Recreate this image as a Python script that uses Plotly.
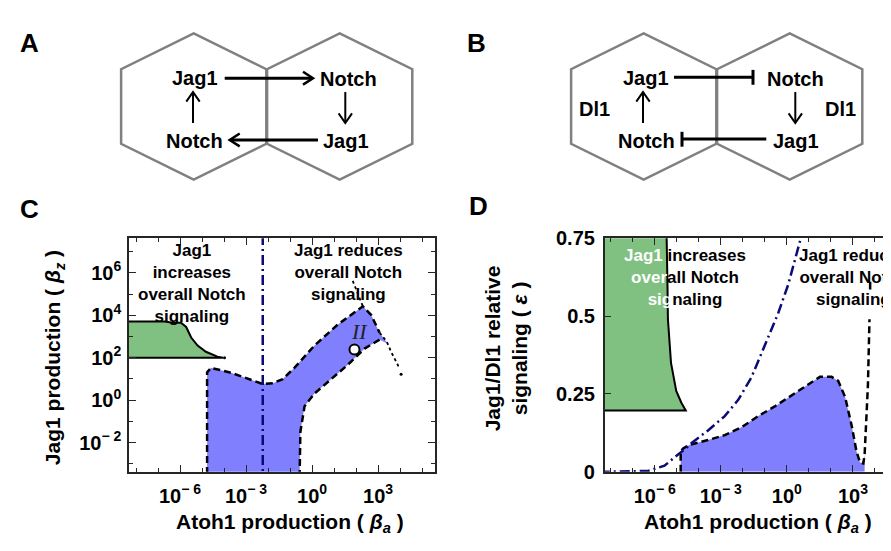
import plotly.graph_objects as go

W, H = 891, 551

# ---------------- Panel C data (Atoh1 production vs Jag1 production) ----------------
c_green_x = [4e-9, 2e-7, 4e-7, 1.1e-6, 1.9e-6, 3.2e-6, 6.3e-6, 1.5e-5, 5e-5, 8.9e-5, 4e-9]
c_green_y = [5100, 5100, 4600, 4400, 2800, 890, 370, 190, 112, 100, 100]

c_blue_x = [1.7e-5, 1.7e-5, 2.24e-5, 2.57e-5, 2.09e-4, 1.2e-3, 5.75e-3, 1.66e-2, 4.68e-2, 0.158,
            1.29, 14.8, 204, 490, 1175, 2818, 1175, 245, 42.7, 7.41, 1.29, 0.457, 0.38, 0.295, 0.269]
c_blue_y = [1e-4, 20.4, 28.2, 33.1, 19.5, 9.8, 5.75, 6.3, 9.8, 33.1,
            372, 3630, 26300, 10200, 1514, 447, 708, 269, 46.8, 9.8, 2.04, 0.513, 0.151, 0.0316, 1e-4]
c_upper_end = 15      # dashed edge: points 0..14
c_lower_start = 16    # dashed edge: points 16..end

c_dot1_x = [70.8, 112, 170, 204]
c_dot1_y = [417000, 126000, 49000, 26300]
c_dot2_x = [1175, 2512, 3981, 6607, 8511]
c_dot2_y = [1514, 562, 186, 66, 39]
c_spot_x = [1.05e-4, 11220]
c_spot_y = [98, 16.6]

c_threshold = 5.75e-3
c_point_x = [85]
c_point_y = [246]

c_xticks = [1e-6, 1e-3, 1, 1e3]
c_xtext = ["10<sup>− 6</sup>", "10<sup>− 3</sup>", "10<sup>0</sup>", "10<sup>3</sup>"]
c_yticks = [1e-2, 1, 1e2, 1e4, 1e6]
c_ytext = ["10<sup>− 2</sup>", "10<sup>0</sup>", "10<sup>2</sup>", "10<sup>4</sup>", "10<sup>6</sup>"]
c_xminor = [10.0 ** k for k in range(-8, 6)]
c_yminor = [10.0 ** k for k in range(-3, 8)]

# ---------------- Panel D data (Atoh1 production vs Jag1/Dl1 relative signaling) ----------------
d_green_x = [3.2e-9, 3.39e-6, 3.8e-6, 3.98e-6, 5.5e-6, 9.5e-6, 1.62e-5, 2.57e-5, 3.2e-9]
d_green_y = [0.8, 0.8, 0.6, 0.49, 0.35, 0.26, 0.222, 0.197, 0.197]

d_blue_x = [1.51e-5, 1.51e-5, 1.95e-5, 3.9e-5, 2.63e-4, 1.51e-3, 8.7e-3, 0.05, 0.282, 1.62, 6.6,
            31.6, 107, 214, 437, 871, 1445, 2089, 2951, 3390, 3390]
d_blue_y = [0, 0.066, 0.075, 0.087, 0.102, 0.118, 0.143, 0.179, 0.210, 0.246, 0.274,
            0.305, 0.305, 0.292, 0.241, 0.149, 0.066, 0.030, 0.027, 0.056, 0]
d_rise_x = [3390, 3981, 4786, 5623]
d_rise_y = [0.056, 0.16, 0.28, 0.49]
d_stub_x = [6026, 6026]
d_stub_y = [0.585, 0.61]

d_dd_x = [3.2e-9, 5e-7, 1e-6, 2.8e-6, 9.5e-6, 2.3e-5, 4.6e-5, 2.63e-4, 1.51e-3, 6.2e-3,
          0.0245, 0.1, 0.398, 1.15, 2.75, 4.68, 5.6]
d_dd_y = [0.0, 0.003, 0.01, 0.02, 0.051, 0.072, 0.092, 0.133, 0.179, 0.231,
          0.303, 0.405, 0.508, 0.601, 0.693, 0.75, 0.78]

d_yticks = [0, 0.25, 0.5, 0.75]
d_ytext = ["0", "0.25", "0.5", "0.75"]

# ---------------- styling ----------------
GREEN = "rgb(128,192,128)"
BLUE = "rgb(128,128,255)"
NAVY = "#0a0a78"
FONT = "Liberation Sans, Arial, sans-serif"
DASH = "7px,4px"
DASHDOT = "10px,4px,2px,4px"

fig = go.Figure()

def add(x, y, xa, ya, **kw):
    fig.add_trace(go.Scatter(x=x, y=y, xaxis=xa, yaxis=ya, showlegend=False,
                             hoverinfo="skip", **kw))

# Panel C traces
add(c_green_x, c_green_y, "x", "y", mode="lines", fill="toself", fillcolor=GREEN,
    line=dict(color="black", width=2))
add(c_blue_x, c_blue_y, "x", "y", mode="lines", fill="toself", fillcolor=BLUE,
    line=dict(width=0, color=BLUE))
add(c_blue_x[:c_upper_end], c_blue_y[:c_upper_end], "x", "y", mode="lines",
    line=dict(color="black", width=2.5, dash=DASH))
add(c_blue_x[c_lower_start:], c_blue_y[c_lower_start:], "x", "y", mode="lines",
    line=dict(color="black", width=2.5, dash=DASH))
add(c_dot1_x, c_dot1_y, "x", "y", mode="lines", line=dict(color="black", width=1.8, dash="dot"))
add(c_dot2_x, c_dot2_y, "x", "y", mode="lines", line=dict(color="black", width=1.8, dash="dot"))
add(c_spot_x, c_spot_y, "x", "y", mode="markers", marker=dict(color="black", size=3))
add([c_threshold, c_threshold], [1e-4, 1e8], "x", "y", mode="lines",
    line=dict(color=NAVY, width=2.5, dash=DASHDOT))
add(c_point_x, c_point_y, "x", "y", mode="markers",
    marker=dict(color="white", size=10, line=dict(color="black", width=2)))

# Panel D traces
add(d_green_x, d_green_y, "x2", "y2", mode="lines", fill="toself", fillcolor=GREEN,
    line=dict(color="black", width=2))
add(d_blue_x, d_blue_y, "x2", "y2", mode="lines", fill="toself", fillcolor=BLUE,
    line=dict(width=0, color=BLUE))
add(d_blue_x[:-1] + d_rise_x[1:], d_blue_y[:-1] + d_rise_y[1:], "x2", "y2", mode="lines",
    line=dict(color="black", width=2.5, dash=DASH))
add(d_stub_x, d_stub_y, "x2", "y2", mode="lines", line=dict(color="black", width=2.5))
add(d_dd_x, d_dd_y, "x2", "y2", mode="lines", line=dict(color=NAVY, width=2.5, dash=DASHDOT))

tickfont = dict(family=FONT, size=20, color="black", weight="bold")
frame = dict(showline=True, linecolor="#262626", linewidth=1.5, showgrid=False,
             zeroline=False, ticks="inside", ticklen=7, tickwidth=1.2, tickcolor="#262626",
             tickfont=tickfont)

yb, yt = 1 - 471.7 / H, 1 - 228.3 / H
minor = dict(tickmode="array", ticks="inside", ticklen=4, tickwidth=1, tickcolor="#262626")

fig.update_layout(
    width=W, height=H, margin=dict(l=0, r=0, t=0, b=0),
    paper_bgcolor="white", plot_bgcolor="white",
    xaxis=dict(domain=[121 / W, 427 / W], type="log", range=[-8.32, 5.59], anchor="y",
               tickmode="array", tickvals=c_xticks, ticktext=c_xtext, mirror="ticks",
               ticklabelstandoff=5, minor=dict(tickvals=c_xminor, **minor), **frame),
    yaxis=dict(domain=[yb, yt], type="log", range=[-3.38, 7.63], anchor="x",
               tickmode="array", tickvals=c_yticks, ticktext=c_ytext, mirror="ticks",
               ticklabelstandoff=2, minor=dict(tickvals=c_yminor, **minor), **frame),
    xaxis2=dict(domain=[596.7 / W, 1.0], type="log", range=[-8.27, 5.09], anchor="y2",
                tickmode="array", tickvals=c_xticks, ticktext=c_xtext, mirror="ticks",
                ticklabelstandoff=5, minor=dict(tickvals=c_xminor, **minor), **frame),
    yaxis2=dict(domain=[yb, yt], range=[0, 0.75], anchor="x2", mirror=False,
                ticklabelstandoff=4,
                tickmode="array", tickvals=d_yticks, ticktext=d_ytext, **frame),
)

# ---------------- helpers for diagrams (pixel -> paper) ----------------
def px(x):
    return x / W

def py(y):
    return 1 - y / H

shapes = []

def line(x0, y0, x1, y1, color="black", width=2.5):
    shapes.append(dict(type="line", xref="paper", yref="paper", x0=px(x0), y0=py(y0),
                       x1=px(x1), y1=py(y1), line=dict(color=color, width=width)))

def poly(pts, color, width, close=False):
    d = "M " + " L ".join(f"{px(a):.5f},{py(b):.5f}" for a, b in pts)
    if close:
        d += " Z"
    shapes.append(dict(type="path", xref="paper", yref="paper", path=d,
                       line=dict(color=color, width=width)))

def hexagon(cx):
    pts = [(cx, 15), (cx + 72.6, 52.3), (cx + 72.6, 130), (cx, 167.3),
           (cx - 72.6, 130), (cx - 72.6, 52.3)]
    poly(pts, "#808080", 2.5, close=True)

annotations = []

def text(x, y, s, size=20, color="black", bold=True, **kw):
    annotations.append(dict(x=px(x), y=py(y), xref="paper", yref="paper", text=s,
                            showarrow=False, xanchor=kw.pop("xanchor", "center"),
                            yanchor=kw.pop("yanchor", "middle"),
                            font=dict(family=kw.pop("family", FONT), size=size, color=color,
                                      weight="bold" if bold else "normal"), **kw))

for off in (0, 450):
    hexagon(185.7 + off)
    hexagon(331.7 + off)
    # vertical arrows
    line(185 + off, 108.3, 185 + off, 77, width=2)
    poly([(178.3 + off, 86), (185 + off, 76), (191.7 + off, 86)], "black", 2)
    line(337.3 + off, 76, 337.3 + off, 107.3, width=2)
    poly([(330.6 + off, 98.3), (337.3 + off, 108.3), (344 + off, 98.3)], "black", 2)

# Panel A horizontal activation arrows
line(216.7, 61.7, 304, 61.7, width=3)
poly([(295, 55), (305, 61.7), (295, 68.4)], "black", 2.5)
line(310, 126, 223, 126, width=3)
poly([(231.7, 119.3), (221.7, 126), (231.7, 132.7)], "black", 2.5)

# Panel B horizontal inhibition lines
line(666, 60.7, 745, 60.7, width=3)
line(745, 53, 745, 68.5, width=3)
line(758.3, 125, 674, 125, width=3)
line(674, 117.5, 674, 133, width=3)

for off in (0, 450):
    text(186.7 + off + (1.6 if off else 0), 61.7, "Jag1")
    text(340 + off - (3 if off else 0), 62.3, "Notch")
    text(186.7 + off + (1.6 if off else 0), 126.7, "Notch")
    text(338.3 + off, 126.7, "Jag1")
text(586.7, 93.3, "Dl1")
text(832.7, 93.3, "Dl1")

# panel letters
text(21.7, 25, "A", size=26)
text(468.3, 25, "B", size=26)
text(21.7, 198.3, "C", size=26)
text(470, 195, "D", size=26)

# axis titles
beta_a = "Atoh1 production ( <i>β</i><sub><i>a</i></sub> )"
text(282, 525, beta_a, size=21)
text(750, 525, beta_a, size=21)
text(46.7, 352.5, "Jag1 production ( <i>β</i><sub><i>z</i></sub> )", size=21, textangle=-90)
text(498, 343, "Jag1/Dl1 relative<br>signaling ( <i>ε</i> )", size=21, textangle=-90)

# in-plot labels
text(183.8, 275, "Jag1<br>increases<br>overall Notch<br>signaling", size=17)
text(340.7, 264, "Jag1 reduces<br>overall Notch<br>signaling", size=17)
text(676.7, 269,
     "<span style='color:white'>Jag1</span> increases<br>"
     "<span style='color:white'>over</span>all Notch<br>"
     "<span style='color:white'>sig</span>naling", size=17)
text(845, 269, "Jag1 reduces<br>overall Notch<br>signaling", size=17)
text(351.7, 325, "<i>II</i>", size=22, bold=False, color="#222222",
     family="Liberation Serif, Times New Roman, serif")

fig.update_layout(shapes=shapes, annotations=annotations)
fig.write_html("out.html")
